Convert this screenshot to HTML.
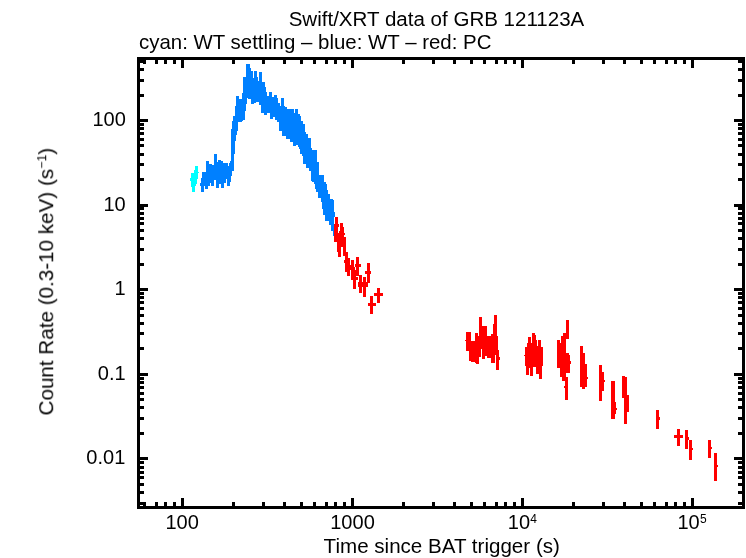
<!DOCTYPE html>
<html><head><meta charset="utf-8"><title>Swift/XRT data of GRB 121123A</title>
<style>
html,body{margin:0;padding:0;background:#fff;}
svg{display:block;}
text{font-family:"Liberation Sans",sans-serif;font-size:21px;fill:#000;}
</style></head><body>
<svg width="746" height="558" viewBox="0 0 746 558">
<rect width="746" height="558" fill="#fff"/>
<path d="M195 166H198V179H195ZM194 170H195V192H194ZM198 172H199V173H198ZM191 173H194V187H191ZM192 187H195V192H192ZM190 178H191V181H190ZM195 179H197V184H195ZM195 184H196V186H195Z" fill="#00ffff" shape-rendering="crispEdges"/>
<path d="M200 183H201V186H200ZM201 178H202V192H201ZM202 172H203V192H202ZM203 172H204V192H203ZM204 172H205V186H204ZM205 172H206V189H205ZM206 161H207V189H206ZM207 161H208V189H207ZM208 161H209V186H208ZM209 164H210V186H209ZM210 164H211V183H210ZM211 164H212V186H211ZM212 165H213V186H212ZM213 165H214V186H213ZM214 154H215V180H214ZM215 154H216V180H215ZM216 154H217V188H216ZM217 162H218V188H217ZM218 160H219V188H218ZM219 160H220V184H219ZM220 160H221V184H220ZM221 161H222V188H221ZM222 161H223V188H222ZM223 163H224V188H223ZM224 163H225V183H224ZM225 163H226V183H225ZM226 163H227V179H226ZM227 163H228V186H227ZM228 166H229V186H228ZM229 163H230V186H229ZM230 161H231V182H230ZM231 129H232V176H231ZM232 121H233V171H232ZM233 116H234V171H233ZM234 116H235V154H234ZM235 106H236V141H235ZM236 96H237V135H236ZM237 96H238V131H237ZM238 96H239V122H238ZM239 99H240V122H239ZM240 99H241V122H240ZM241 99H242V122H241ZM242 93H243V121H242ZM243 77H244V120H243ZM244 77H245V120H244ZM245 77H246V111H245ZM246 64H247V104H246ZM247 64H248V98H247ZM248 64H249V99H248ZM249 64H250V99H249ZM250 68H251V99H250ZM251 71H252V104H251ZM252 71H253V104H252ZM253 78H254V104H253ZM254 71H255V103H254ZM255 71H256V103H255ZM256 71H257V102H256ZM257 77H258V102H257ZM258 81H259V102H258ZM259 72H260V105H259ZM260 72H261V105H260ZM261 72H262V113H261ZM262 82H263V113H262ZM263 82H264V113H263ZM264 82H265V115H264ZM265 87H266V115H265ZM266 92H267V115H266ZM267 96H268V113H267ZM268 96H269V113H268ZM269 92H270V113H269ZM270 92H271V119H270ZM271 92H272V119H271ZM272 97H273V119H272ZM273 97H274V117H273ZM274 95H275V117H274ZM275 95H276V120H275ZM276 95H277V120H276ZM277 98H278V122H277ZM278 103H279V122H278ZM279 103H280V131H279ZM280 106H281V131H280ZM281 98H282V131H281ZM282 98H283V136H282ZM283 98H284V136H283ZM284 106H285V136H284ZM285 107H286V136H285ZM286 107H287V139H286ZM287 109H288V139H287ZM288 109H289V139H288ZM289 109H290V139H289ZM290 109H291V142H290ZM291 109H292V142H291ZM292 109H293V142H292ZM293 109H294V146H293ZM294 113H295V146H294ZM295 109H296V146H295ZM296 109H297V145H296ZM297 109H298V145H297ZM298 114H299V147H298ZM299 114H300V149H299ZM300 116H301V154H300ZM301 121H302V154H301ZM302 121H303V156H302ZM303 124H304V164H303ZM304 124H305V164H304ZM305 132H306V164H305ZM306 134H307V168H306ZM307 134H308V168H307ZM308 138H309V168H308ZM309 138H310V171H309ZM310 138H311V171H310ZM311 148H312V181H311ZM312 150H313V182H312ZM313 150H314V182H313ZM314 150H315V184H314ZM315 150H316V189H315ZM316 150H317V192H316ZM317 162H318V192H317ZM318 162H319V198H318ZM319 175H320V198H319ZM320 175H321V198H320ZM321 175H322V202H321ZM322 175H323V209H322ZM323 175H324V215H323ZM324 182H325V215H324ZM325 182H326V221H325ZM326 184H327V221H326ZM327 190H328V221H327ZM328 194H329V221H328ZM329 194H330V225H329ZM330 199H331V225H330ZM331 199H332V231H331ZM332 199H333V231H332ZM333 200H334V236H333ZM334 212H335V217H334Z" fill="#0080ff" shape-rendering="crispEdges"/>
<path d="M334 224H338V242H334ZM335 217H338V224H335ZM338 224H339V227H338ZM338 233H339V235H338ZM339 231H340V235H339ZM340 223H343V235H340ZM343 227H344V235H343ZM344 233H345V235H344ZM334 235H344V242H334ZM344 237H346V242H344ZM337 242H341V252H337ZM338 252H341V257H338ZM341 242H343V247H341ZM343 242H346V256H343ZM345 252H348V272H345ZM347 258H350V276H347ZM344 260H345V263H344ZM350 265H351V270H350ZM351 260H354V280H351ZM354 267H355V280H354ZM356 257H359V275H356ZM355 264H361V267H355ZM351 270H359V276H351ZM353 276H356V289H353ZM351 277H358V280H351ZM359 275H362V293H359ZM363 277H366V297H363ZM358 282H368V287H358ZM367 263H370V283H367ZM365 271H371V274H365ZM370 296H373V314H370ZM368 303H376V306H368ZM377 288H380V303H377ZM374 293H383V296H374ZM466 332H469V351H466ZM469 332H471V361H469ZM465 340H466V341H465ZM471 341H475V362H471ZM475 333H478V363H475ZM478 336H479V364H478ZM476 361H479V364H476ZM479 317H481V357H479ZM481 317H482V349H481ZM482 326H485V359H482ZM485 326H487V356H485ZM487 336H491V358H487ZM491 334H493V363H491ZM493 324H494V363H493ZM494 315H497V355H494ZM492 355H495V363H492ZM496 336H498V370H496ZM498 350H499V370H498ZM499 357H500V360H499ZM524 355H525V356H524ZM525 347H543V366H525ZM527 343H528V347H527ZM528 337H531V347H528ZM531 343H532V347H531ZM532 333H535V347H532ZM535 335H536V347H535ZM536 340H537V347H536ZM537 346H538V347H537ZM538 340H541V347H538ZM541 347H542V349H541ZM526 366H529V375H526ZM530 366H533V376H530ZM529 366H530V368H529ZM533 366H536V367H533ZM536 366H539V374H536ZM539 366H542V379H539ZM557 340H560V368H557ZM560 343H561V377H560ZM561 336H563V377H561ZM562 377H565V381H562ZM563 333H566V381H563ZM566 320H569V339H566ZM566 353H569V373H566ZM565 377H568V400H565ZM564 386H565V388H564ZM569 355H570V373H569ZM570 361H571V364H570ZM580 346H583V387H580ZM582 353H585V389H582ZM584 364H587V387H584ZM587 377H588V379H587ZM599 365H602V401H599ZM601 372H604V391H601ZM604 380H605V382H604ZM611 381H615V419H611ZM614 402H616V414H614ZM616 408H617V410H616ZM622 376H625V398H622ZM624 377H627V424H624ZM626 395H629V412H626ZM656 410H659V429H656ZM659 417H660V420H659ZM677 429H680V446H677ZM674 435H683V438H674ZM685 430H688V449H685ZM688 437H689V440H688ZM689 440H692V460H689ZM692 448H693V450H692ZM708 440H711V458H708ZM711 447H712V449H711ZM714 453H717V481H714ZM717 465H718V467H717Z" fill="#ff0000" shape-rendering="crispEdges"/>
<path d="M137 57H745V60H137ZM137 506H745V509H137ZM137 57H140V509H137ZM742 57H745V509H742ZM143 57H146V64H143ZM143 502H146V509H143ZM155 57H158V64H155ZM155 502H158V509H155ZM164 57H167V64H164ZM164 502H167V509H164ZM173 57H176V64H173ZM173 502H176V509H173ZM181 57H184V68H181ZM181 498H184V509H181ZM232 57H235V64H232ZM232 502H235V509H232ZM262 57H265V64H262ZM262 502H265V509H262ZM283 57H286V64H283ZM283 502H286V509H283ZM300 57H303V64H300ZM300 502H303V509H300ZM313 57H316V64H313ZM313 502H316V509H313ZM325 57H328V64H325ZM325 502H328V509H325ZM334 57H337V64H334ZM334 502H337V509H334ZM343 57H346V64H343ZM343 502H346V509H343ZM351 57H354V68H351ZM351 498H354V509H351ZM402 57H405V64H402ZM402 502H405V509H402ZM432 57H435V64H432ZM432 502H435V509H432ZM453 57H456V64H453ZM453 502H456V509H453ZM470 57H473V64H470ZM470 502H473V509H470ZM483 57H486V64H483ZM483 502H486V509H483ZM495 57H498V64H495ZM495 502H498V509H495ZM504 57H507V64H504ZM504 502H507V509H504ZM513 57H516V64H513ZM513 502H516V509H513ZM521 57H524V68H521ZM521 498H524V509H521ZM572 57H575V64H572ZM572 502H575V509H572ZM602 57H605V64H602ZM602 502H605V509H602ZM623 57H626V64H623ZM623 502H626V509H623ZM640 57H643V64H640ZM640 502H643V509H640ZM653 57H656V64H653ZM653 502H656V509H653ZM665 57H668V64H665ZM665 502H668V509H665ZM674 57H677V64H674ZM674 502H677V509H674ZM683 57H686V64H683ZM683 502H686V509H683ZM691 57H694V68H691ZM691 498H694V509H691ZM137 502H144V505H137ZM738 502H745V505H738ZM137 491H144V494H137ZM738 491H745V494H738ZM137 483H144V486H137ZM738 483H745V486H738ZM137 476H144V479H137ZM738 476H745V479H738ZM137 471H144V474H137ZM738 471H745V474H738ZM137 466H144V469H137ZM738 466H745V469H738ZM137 461H144V464H137ZM738 461H745V464H738ZM137 457H148V460H137ZM734 457H745V460H734ZM137 432H144V435H137ZM738 432H745V435H738ZM137 417H144V420H137ZM738 417H745V420H738ZM137 406H144V409H137ZM738 406H745V409H738ZM137 398H144V401H137ZM738 398H745V401H738ZM137 392H144V395H137ZM738 392H745V395H738ZM137 386H144V389H137ZM738 386H745V389H738ZM137 381H144V384H137ZM738 381H745V384H738ZM137 377H144V380H137ZM738 377H745V380H738ZM137 373H148V376H137ZM734 373H745V376H734ZM137 347H144V350H137ZM738 347H745V350H738ZM137 332H144V335H137ZM738 332H745V335H738ZM137 322H144V325H137ZM738 322H745V325H738ZM137 314H144V317H137ZM738 314H745V317H738ZM137 307H144V310H137ZM738 307H745V310H738ZM137 301H144V304H137ZM738 301H745V304H738ZM137 296H144V299H137ZM738 296H745V299H738ZM137 292H144V295H137ZM738 292H745V295H738ZM137 288H148V291H137ZM734 288H745V291H734ZM137 263H144V266H137ZM738 263H745V266H738ZM137 248H144V251H137ZM738 248H745V251H738ZM137 237H144V240H137ZM738 237H745V240H738ZM137 229H144V232H137ZM738 229H745V232H738ZM137 222H144V225H137ZM738 222H745V225H738ZM137 217H144V220H137ZM738 217H745V220H738ZM137 212H144V215H137ZM738 212H745V215H738ZM137 207H144V210H137ZM738 207H745V210H738ZM137 204H148V207H137ZM734 204H745V207H734ZM137 178H144V181H137ZM738 178H745V181H738ZM137 163H144V166H137ZM738 163H745V166H738ZM137 153H144V156H137ZM738 153H745V156H738ZM137 144H144V147H137ZM738 144H745V147H738ZM137 138H144V141H137ZM738 138H745V141H738ZM137 132H144V135H137ZM738 132H745V135H738ZM137 127H144V130H137ZM738 127H745V130H738ZM137 123H144V126H137ZM738 123H745V126H738ZM137 119H148V122H137ZM734 119H745V122H734ZM137 94H144V97H137ZM738 94H745V97H738ZM137 79H144V82H137ZM738 79H745V82H738ZM137 68H144V71H137ZM738 68H745V71H738ZM137 60H144V63H137ZM738 60H745V63H738Z" fill="#000" shape-rendering="crispEdges"/>
<g opacity="0.999">
<text id="title" transform="translate(288.65 25.80) scale(0.9783 1)">Swift/XRT data of GRB 121123A</text>
<text id="sub" transform="translate(139.00 49.20) scale(0.9732 1)">cyan: WT settling – blue: WT – red: PC</text>
<text id="xl" transform="translate(323.62 552.80) scale(0.9802 1)">Time since BAT trigger (s)</text>
<text id="yl" transform="translate(53.20 415.48) rotate(-90) scale(0.9837 1)">Count Rate (0.3-10 keV) (s<tspan font-size="12.6" dy="-7.4">−1</tspan><tspan dy="7.4">)</tspan></text>
<text id="y100" transform="translate(92.38 126.00) scale(0.9550 1)">100</text>
<text id="y10" transform="translate(103.45 211.00) scale(0.9550 1)">10</text>
<text id="y1" transform="translate(114.62 295.00) scale(0.9550 1)">1</text>
<text id="y01" transform="translate(97.75 380.00) scale(0.9550 1)">0.1</text>
<text id="y001" transform="translate(86.33 464.00) scale(0.9550 1)">0.01</text>
<text id="x100" transform="translate(165.43 528.80) scale(0.9550 1)">100</text>
<text id="x1000" transform="translate(330.20 528.80) scale(0.9550 1)">1000</text>
<text id="x1e4" transform="translate(507.80 528.80) scale(0.9550 1)">10<tspan font-size="12.6" dy="-6.2" dx="0.2">4</tspan></text>
<text id="x1e5" transform="translate(677.42 528.80) scale(0.9550 1)">10<tspan font-size="12.6" dy="-6.2" dx="0.2">5</tspan></text>
</g>
</svg>
</body></html>
